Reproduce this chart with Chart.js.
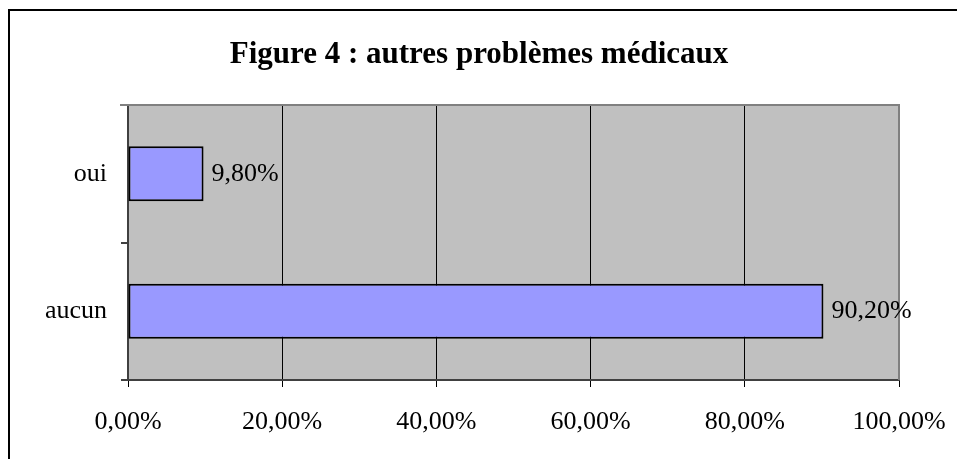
<!DOCTYPE html>
<html>
<head>
<meta charset="utf-8">
<script src="https://cdn.jsdelivr.net/npm/chart.js@4/dist/chart.umd.min.js"></script>
<style>
  html, body { margin: 0; padding: 0; background: #ffffff; }
  #wrap { width: 957px; height: 459px; position: relative; }
</style>
</head>
<body>
<div id="wrap"><canvas id="c" width="957" height="459"></canvas></div>
<script>
const titleText = 'Figure 4 : autres problèmes médicaux';
const categories = ['oui', 'aucun'];
const values = [9.8, 90.2];
const xTicksMin = 0;
const xTicksMax = 100;
const xTickStep = 20;

const fmt = v => Number(v).toFixed(2).replace('.', ',') + '%';
const FONT = "'Liberation Serif', 'Times New Roman', serif";

const decor = {
  id: 'decor',
  beforeDraw(chart) {
    const { ctx, chartArea: a } = chart;
    ctx.save();
    ctx.fillStyle = '#ffffff';
    ctx.fillRect(0, 0, chart.width, chart.height);
    ctx.fillStyle = '#C0C0C0';
    ctx.fillRect(a.left, a.top, a.right - a.left, a.bottom - a.top);
    ctx.restore();
  },
  afterDatasetsDraw(chart) {
    const { ctx, chartArea: a } = chart;
    ctx.save();
    // top and right frame in gray
    ctx.strokeStyle = '#808080';
    ctx.lineWidth = 2;
    ctx.beginPath();
    ctx.moveTo(a.left - 8, a.top);
    ctx.lineTo(a.right, a.top);
    ctx.lineTo(a.right, a.bottom);
    ctx.stroke();
    // data labels
    ctx.fillStyle = '#000000';
    ctx.font = '26px ' + FONT;
    ctx.textAlign = 'left';
    ctx.textBaseline = 'middle';
    const meta = chart.getDatasetMeta(0);
    meta.data.forEach((el, i) => {
      ctx.fillText(fmt(values[i]), el.x + 8, el.y);
    });
    // title
    ctx.font = 'bold 31px ' + FONT;
    ctx.textAlign = 'center';
    ctx.textBaseline = 'alphabetic';
    ctx.fillText(titleText, 479, 63);
    // outer border
    ctx.strokeStyle = '#000000';
    ctx.lineWidth = 2;
    ctx.strokeRect(9, 10, 1200, 1200);
    ctx.restore();
  }
};

new Chart(document.getElementById('c'), {
  type: 'bar',
  data: {
    labels: categories,
    datasets: [{
      data: values,
      backgroundColor: '#9999FF',
      borderColor: '#000000',
      borderWidth: 2,
      borderSkipped: false,
      categoryPercentage: 1.0,
      barPercentage: 0.4
    }]
  },
  options: {
    indexAxis: 'y',
    responsive: false,
    animation: false,
    devicePixelRatio: 1,
    layout: { padding: { top: 105, right: 58, left: 0, bottom: 0 } },
    plugins: {
      legend: { display: false },
      title: { display: false },
      tooltip: { enabled: false }
    },
    scales: {
      x: {
        type: 'linear',
        min: xTicksMin,
        max: xTicksMax,
        afterFit(scale) { scale.height = 79; scale.paddingRight = 0; scale.paddingLeft = 0; },
        ticks: {
          stepSize: xTickStep,
          callback: v => fmt(v),
          color: '#000000',
          font: { family: FONT, size: 26 },
          padding: 20,
          maxRotation: 0,
          autoSkip: false
        },
        grid: {
          color: '#000000',
          lineWidth: 1,
          tickLength: 7,
          drawOnChartArea: true,
          drawTicks: true
        },
        border: { display: true, color: '#404040', width: 2 }
      },
      y: {
        type: 'category',
        afterFit(scale) { scale.width = 128; scale.paddingTop = 0; scale.paddingBottom = 0; },
        ticks: {
          color: '#000000',
          font: { family: FONT, size: 26 },
          padding: 14
        },
        grid: {
          offset: true,
          color: '#404040',
          lineWidth: 2,
          tickLength: 7,
          drawOnChartArea: false,
          drawTicks: true
        },
        border: { display: true, color: '#404040', width: 2 }
      }
    }
  },
  plugins: [decor]
});
</script>
</body>
</html>
